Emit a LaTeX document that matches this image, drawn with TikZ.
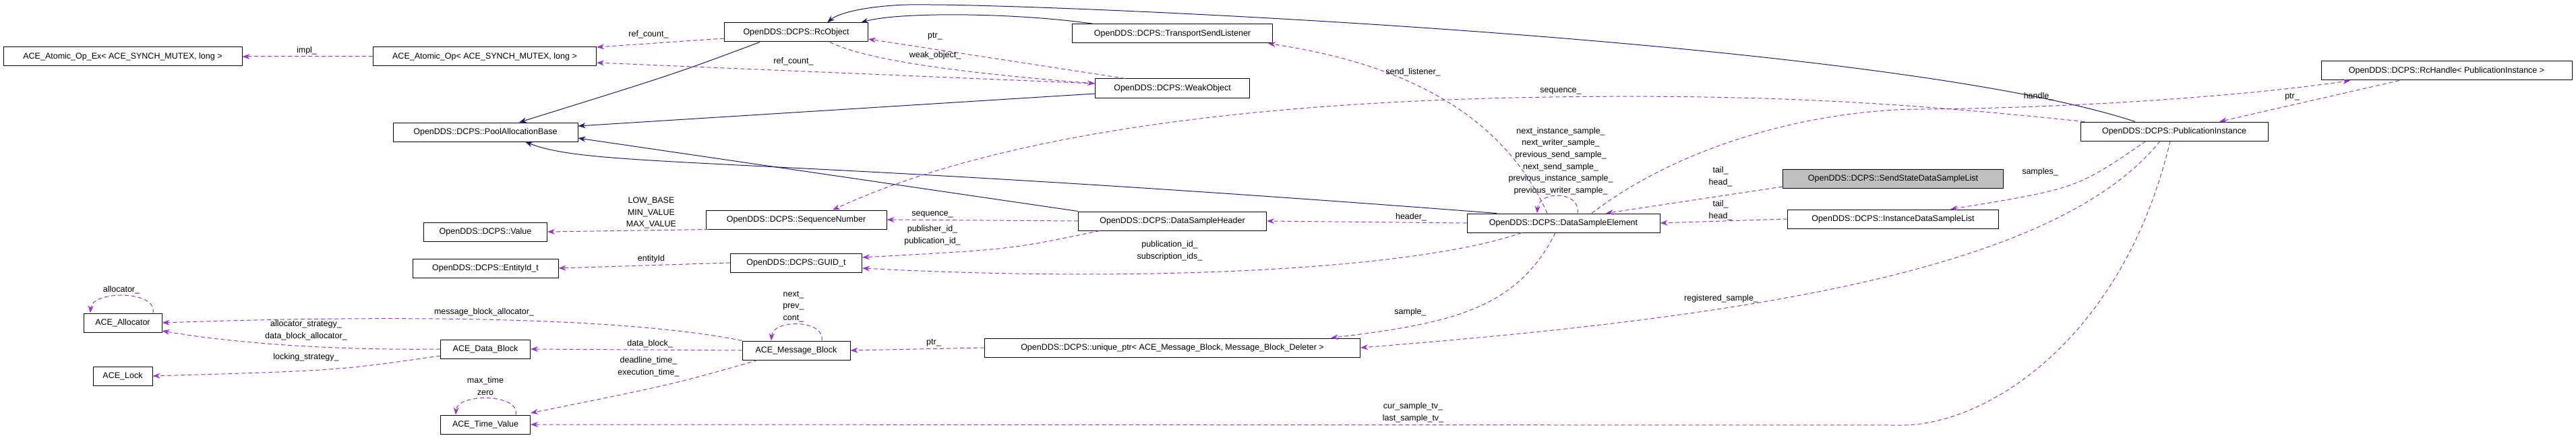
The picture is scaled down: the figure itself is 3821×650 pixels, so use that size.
\documentclass[tikz,border=0pt]{standalone}
\usepackage{fontspec}
\setmainfont{Liberation Sans}
\usetikzlibrary{arrows.meta}
\definecolor{inhc}{HTML}{191970}
\definecolor{usec}{HTML}{9A32CD}
\begin{document}
\begin{tikzpicture}[x=1pt,y=-1pt,
  every node/.style={font=\fontsize{12.5}{17.6}\selectfont},
  box/.style={draw=black,line width=1pt,fill=white,minimum height=28pt,inner sep=0pt,align=center},
  lab/.style={inner sep=0pt,align=center},
  inh/.style={draw=inhc,line width=1pt,-{Stealth[length=11pt,width=8pt]}},
  use/.style={draw=usec,line width=1pt,dash pattern=on 6pt off 4pt,-{Stealth[length=11pt,width=8pt,fill=usec]}}]
\useasboundingbox (0,0) rectangle (3821,650);
% nodes
\node[box,minimum width=354pt] (aoex) at (182,84) {ACE\_Atomic\_Op\_Ex< ACE\_SYNCH\_MUTEX, long >};
\node[box,minimum width=331pt] (aop) at (719,84) {ACE\_Atomic\_Op< ACE\_SYNCH\_MUTEX, long >};
\node[box,minimum width=213pt] (rco) at (1181,48) {OpenDDS::DCPS::RcObject};
\node[box,minimum width=274pt] (pool) at (720,196) {OpenDDS::DCPS::PoolAllocationBase};
\node[box,minimum width=268pt] (seq) at (1181,326) {OpenDDS::DCPS::SequenceNumber};
\node[box,minimum width=183pt] (val) at (720,344) {OpenDDS::DCPS::Value};
\node[box,minimum width=216pt] (eid) at (720,398) {OpenDDS::DCPS::EntityId\_t};
\node[box,minimum width=195pt] (guid) at (1181,390) {OpenDDS::DCPS::GUID\_t};
\node[box,minimum width=116pt] (alloc) at (182,479) {ACE\_Allocator};
\node[box,minimum width=88pt] (lock) at (182,558) {ACE\_Lock};
\node[box,minimum width=133pt] (db) at (720,518) {ACE\_Data\_Block};
\node[box,minimum width=133pt] (tv) at (720,630) {ACE\_Time\_Value};
\node[box,minimum width=160pt] (mb) at (1181,520) {ACE\_Message\_Block};
\node[box,minimum width=297pt] (tsl) at (1739,50) {OpenDDS::DCPS::TransportSendListener};
\node[box,minimum width=229pt] (weak) at (1739,131) {OpenDDS::DCPS::WeakObject};
\node[box,minimum width=279pt] (dsh) at (1739,328) {OpenDDS::DCPS::DataSampleHeader};
\node[box,minimum width=286pt] (dse) at (2319,331) {OpenDDS::DCPS::DataSampleElement};
\node[box,minimum width=557pt] (uptr) at (1739,516) {OpenDDS::DCPS::unique\_ptr< ACE\_Message\_Block, Message\_Block\_Deleter >};
\node[box,minimum width=372pt] (rch) at (3629,105) {OpenDDS::DCPS::RcHandle< PublicationInstance >};
\node[box,minimum width=278pt] (pi) at (3225,195) {OpenDDS::DCPS::PublicationInstance};
\node[box,minimum width=327pt,fill=black!25] (ssl) at (2808,265) {OpenDDS::DCPS::SendStateDataSampleList};
\node[box,minimum width=313pt] (idl) at (2808,325) {OpenDDS::DCPS::InstanceDataSampleList};
% inheritance
\draw[inh] ([xshift=-54]rco.south) .. controls (1000,110) .. ([xshift=50]pool.north);
\draw[inh] ([yshift=-8]weak.west) -- ([yshift=9]pool.east);
\draw[inh] (dsh.north west) -- ([yshift=-9]pool.east);
\draw[inh] ([xshift=-99]dse.north) .. controls (1100,230) and (880,250) .. ([xshift=59]pool.south);
\draw[inh] ([xshift=-116]tsl.north) .. controls (1500,18) and (1330,18) .. ([xshift=96]rco.north);
\draw[inh] ([xshift=-58]pi.north) .. controls (2800,60) and (1600,8) .. (1380,7) .. controls (1300,5) and (1245,18) .. ([xshift=46]rco.north);
% usage
\draw[use] (aop.west) -- (aoex.east);
\draw[use] ([yshift=-9]rco.west) -- ([yshift=14]aop.east);
\draw[use] ([yshift=7]weak.west) -- ([yshift=-9]aop.east);
\draw[use] ([xshift=-70]weak.north) -- ([yshift=-10]rco.east);
\draw[use] ([xshift=50]rco.south) .. controls (1290,92) and (1450,110) .. ([yshift=7]weak.west);
\draw[use] (dsh.west) -- (seq.east);
\draw[use] ([xshift=-108]dsh.south) .. controls (1500,370) .. ([yshift=8]guid.east);
\draw[use] ([xshift=-62]dse.south) .. controls (2100,400) and (1700,420) .. ([yshift=-8]guid.east);
\draw[use] (dse.west) -- (dsh.east);
\draw[use] ([xshift=-133]pi.north) .. controls (2800,150) and (2600,140) .. (2300,144) .. controls (1900,150) and (1500,190) .. ([xshift=54]seq.north);
\draw[use] ([xshift=42]dse.north) .. controls (2500,210) and (2700,162) .. (2852,162) .. controls (3100,160) and (3350,140) .. ([xshift=-143]rch.south);
\draw[use] ([xshift=-70]rch.south) -- ([xshift=67]pi.north);
\draw[use] ([xshift=21]dse.north) .. controls ([xshift=26,yshift=34]dse.north) and ([xshift=-37,yshift=34]dse.north) .. ([xshift=-39]dse.north);
\draw[use] ([yshift=-12]ssl.west) -- ([xshift=63]dse.north);
\draw[use] (idl.west) -- (dse.east);
\draw[use] ([xshift=-42]pi.south) .. controls (3080,280) .. ([xshift=85]idl.north);
\draw[use] ([xshift=-21]pi.south) .. controls (3050,400) and (2600,470) .. (uptr.east);
\draw[use] ([xshift=-6]pi.south) .. controls (3150,500) and (2950,631) .. (2820,631) -- (tv.east);
\draw[use] ([xshift=-12]dse.south) .. controls (2250,460) and (2150,480) .. ([xshift=235]uptr.north);
\draw[use] ([xshift=-24]dse.north) .. controls (2220,150) and (2050,90) .. ([xshift=142]tsl.south);
\draw[use] (uptr.west) -- (mb.east);
\draw[use] ([xshift=38]mb.north) .. controls ([xshift=43,yshift=32]mb.north) and ([xshift=-35,yshift=32]mb.north) .. ([xshift=-37]mb.north);
\draw[use] (mb.west) -- (db.east);
\draw[use] (mb.north west) .. controls (900,465) and (500,470) .. (alloc.east);
\draw[use] ([xshift=-57]mb.south) .. controls (1000,570) .. ([yshift=17]tv.east);
\draw[use] (db.west) .. controls (500,520) and (350,510) .. ([yshift=-12]alloc.east);
\draw[use] ([yshift=-10]db.west) .. controls (500,550) .. (lock.east);
\draw[use] ([xshift=45]alloc.north) .. controls ([xshift=52,yshift=34]alloc.north) and ([xshift=-46,yshift=34]alloc.north) .. ([xshift=-48]alloc.north);
\draw[use] ([xshift=45]tv.north) .. controls ([xshift=52,yshift=32]tv.north) and ([xshift=-42,yshift=32]tv.north) .. ([xshift=-44]tv.north);
\draw[use] ([xshift=-130]seq.south) -- (val.east);
\draw[use] (guid.west) -- (eid.east);
% labels
\node[lab] (l1) at (455,75) {impl\_};
\node[lab] (l2) at (962,51) {ref\_count\_};
\node[lab] (l3) at (1177,91) {ref\_count\_};
\node[lab] (l4) at (1387,54) {ptr\_};
\node[lab] (l5) at (1387,82) {weak\_object\_};
\node[lab] (l6) at (966,316) {LOW\_BASE\\MIN\_VALUE\\MAX\_VALUE};
\node[lab] (l7) at (966,384) {entityId};
\node[lab] (l8) at (180,430) {allocator\_};
\node[lab] (l9) at (718,463) {message\_block\_allocator\_};
\node[lab] (l10) at (454,490) {allocator\_strategy\_\\data\_block\_allocator\_};
\node[lab] (l11) at (454,530) {locking\_strategy\_};
\node[lab] (l12) at (1177,455) {next\_\\prev\_\\cont\_};
\node[lab] (l13) at (964,510) {data\_block\_};
\node[lab] (l14) at (962,544) {deadline\_time\_\\execution\_time\_};
\node[lab] (l15) at (720,573) {max\_time\\zero};
\node[lab] (l16) at (1383,318) {sequence\_};
\node[lab] (l17) at (1383,349) {publisher\_id\_\\publication\_id\_};
\node[lab] (l18) at (1735,372) {publication\_id\_\\subscription\_ids\_};
\node[lab] (l19) at (1385,509) {ptr\_};
\node[lab] (l20) at (2096,107) {send\_listener\_};
\node[lab] (l21) at (2315,135) {sequence\_};
\node[lab] (l22) at (2093,322) {header\_};
\node[lab] (l23) at (2315,239) {next\_instance\_sample\_\\next\_writer\_sample\_\\previous\_send\_sample\_\\next\_send\_sample\_\\previous\_instance\_sample\_\\previous\_writer\_sample\_};
\node[lab] (l24) at (2092,463) {sample\_};
\node[lab] (l25) at (2096,612) {cur\_sample\_tv\_\\last\_sample\_tv\_};
\node[lab] (l26) at (2552,262) {tail\_\\head\_};
\node[lab] (l27) at (2552,312) {tail\_\\head\_};
\node[lab] (l28) at (2553,443) {registered\_sample\_};
\node[lab] (l29) at (3024,143) {handle\_};
\node[lab] (l30) at (3026,255) {samples\_};
\node[lab] (l31) at (3400,144) {ptr\_};
\end{tikzpicture}
\end{document}
